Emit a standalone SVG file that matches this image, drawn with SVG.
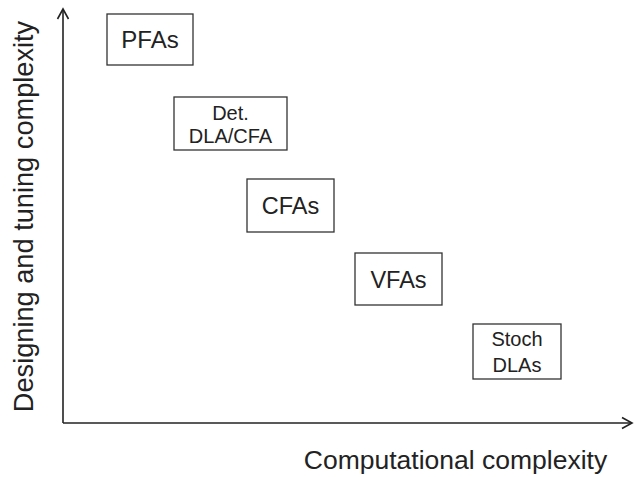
<svg xmlns="http://www.w3.org/2000/svg" width="634" height="477" viewBox="0 0 634 477">
<style>
.box{fill:#fff;stroke:#333;stroke-width:1.3}
.t{font-family:"Liberation Sans",Arial,sans-serif;fill:#222;text-anchor:middle}
.ax{fill:none;stroke:#222;stroke-width:1.6}
</style>
<rect width="634" height="477" fill="#fff"/>
<g id="connectors">
<line class="ax" x1="63" y1="423" x2="63" y2="9"/>
<polyline class="ax" points="57.5,19 63,9 68.5,19"/>
<line class="ax" x1="63" y1="423" x2="632" y2="423"/>
<polyline class="ax" points="622,417.5 632,423 622,428.5"/>
</g>
<g id="ylabel"><text class="t" font-size="27.2" transform="translate(33,216.5) rotate(-90)">Designing and tuning complexity</text></g>
<g id="xlabel"><text class="t" font-size="26.5" x="455.5" y="469">Computational complexity</text></g>
<g id="pfas"><rect class="box" x="107" y="14" width="86" height="51"/><text class="t" font-size="24" x="150" y="48">PFAs</text></g>
<g id="det"><rect class="box" x="174" y="97" width="113" height="53"/><text class="t" font-size="20" x="230.5" y="120">Det.</text><text class="t" font-size="20" x="230.5" y="143">DLA/CFA</text></g>
<g id="cfas"><rect class="box" x="247" y="179" width="87" height="53"/><text class="t" font-size="23.5" x="290.5" y="214">CFAs</text></g>
<g id="vfas"><rect class="box" x="355" y="253" width="87" height="52"/><text class="t" font-size="23.5" x="398.5" y="288">VFAs</text></g>
<g id="stoch"><rect class="box" x="473" y="324" width="88" height="55"/><text class="t" font-size="20" x="517" y="346">Stoch</text><text class="t" font-size="20" x="517" y="372">DLAs</text></g>
</svg>
